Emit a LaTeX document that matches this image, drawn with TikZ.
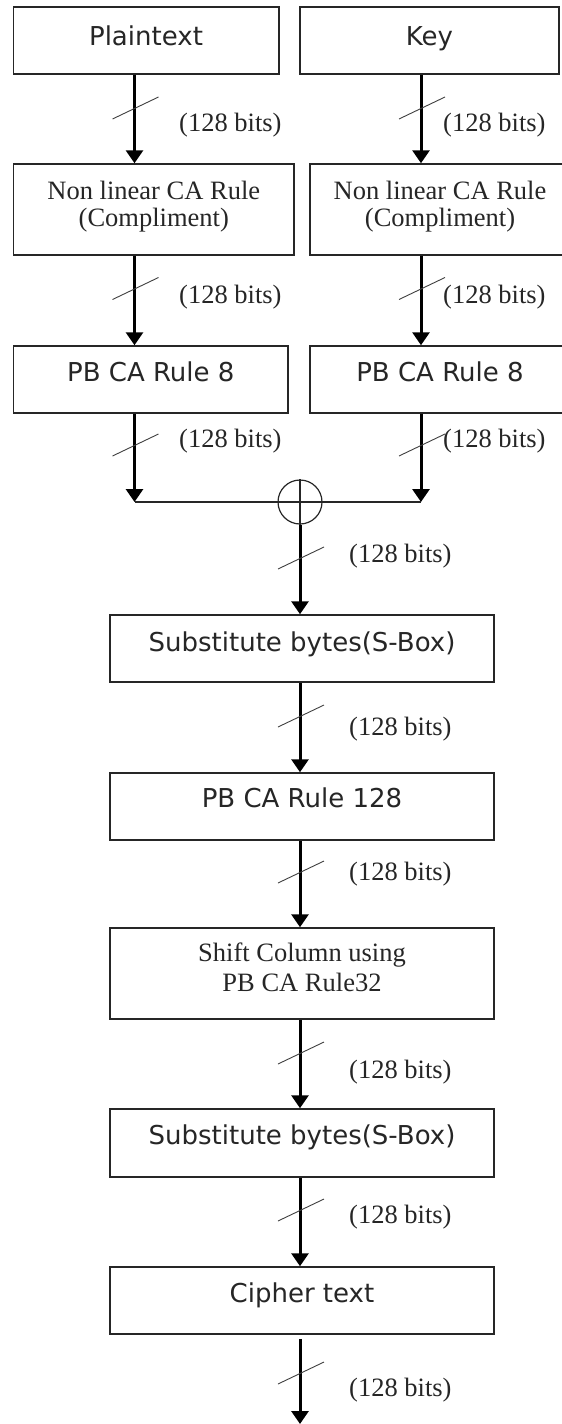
\documentclass[tikz,border=0pt]{standalone}
\usepackage{fontspec}
\setmainfont{Liberation Serif}
\newfontfamily\sansf{DejaVu Sans}
\usetikzlibrary{arrows.meta}
\begin{document}
\begin{tikzpicture}[x=1pt,y=-1pt,
  box/.style={draw=black!85, line width=1.5pt, rectangle, inner sep=0pt},
  sansT/.style={font=\sansf\fontsize{26}{28}\selectfont, inner sep=0pt, text height=19pt, text depth=0pt, text=black!85},
  serT/.style={font=\fontsize{26.5}{28}\selectfont, inner sep=0pt, text height=17.5pt, text depth=0pt, text=black!85},
  bitsT/.style={serT, anchor=west},
  arr/.style={line width=3pt, draw=black, -{Triangle[length=13pt,width=17pt]}},
  thinln/.style={line width=1.3pt, draw=black!85},
  slashln/.style={line width=0.9pt, draw=black!75},
]
\useasboundingbox (0,0) rectangle (562,1424);
\fill[white] (0,0) rectangle (562,1424);

% columns
\coordinate (colL) at (134.5,0);
\coordinate (colR) at (421,0);
\coordinate (colM) at (300,0);

% boxes
\node[box, minimum width=265.4pt, minimum height=67pt] (plain) at (146.3,40.5) {};
\node[box, minimum width=259pt, minimum height=67pt] (key) at (429.5,40.5) {};
\node[box, minimum width=280.4pt, minimum height=91pt] (nlL) at (153.8,209.5) {};
\node[box, minimum width=262pt, minimum height=91pt] (nlR) at (441,209.5) {};
\node[box, minimum width=274.4pt, minimum height=67pt] (pbL) at (150.8,379.5) {};
\node[box, minimum width=262pt, minimum height=67pt] (pbR) at (441,379.5) {};
\node[box, minimum width=384pt, minimum height=67pt] (sub1) at (302,648.5) {};
\node[box, minimum width=384pt, minimum height=67pt] (pb128) at (302,806.5) {};
\node[box, minimum width=384pt, minimum height=91pt] (shift) at (302,973.5) {};
\node[box, minimum width=384pt, minimum height=68pt] (sub2) at (302,1143) {};
\node[box, minimum width=384pt, minimum height=67pt] (cipher) at (302,1300.5) {};

% box texts
\node[sansT] (tPlain) at (146,36) {Plaintext};
\node[sansT] (tKey) at (429.5,36) {Key};
\node[serT] (tNlL1) at (153.8,191) {Non linear CA Rule};
\node[serT] (tNlL2) at (153.8,218) {(Compliment)};
\node[serT] (tNlR1) at (440,191) {Non linear CA Rule};
\node[serT] (tNlR2) at (440,218) {(Compliment)};
\node[sansT] (tPbL) at (150.8,372) {PB CA Rule 8};
\node[sansT] (tPbR) at (440,372) {PB CA Rule 8};
\node[sansT] (tSub1) at (302,642) {Substitute bytes(S-Box)};
\node[sansT] (tPb128) at (302,798) {PB CA Rule 128};
\node[serT] (tSh1) at (302,953) {Shift Column using};
\node[serT] (tSh2) at (302,983) {PB CA Rule32};
\node[sansT] (tSub2) at (302,1135) {Substitute bytes(S-Box)};
\node[sansT] (tCiph) at (302,1293) {Cipher text};

% XOR
\node[draw=black!85, line width=1.2pt, circle, minimum size=44pt, inner sep=0pt] (xor) at (300,502) {};
\coordinate (jL) at (134.5,502);
\coordinate (jR) at (421,502);
\coordinate (outEnd) at (300,1424);

% connectors
\draw[arr] (plain.south -| colL) -- (nlL.north -| colL);
\draw[arr] (key.south -| colR) -- (nlR.north -| colR);
\draw[arr] (nlL.south -| colL) -- (pbL.north -| colL);
\draw[arr] (nlR.south -| colR) -- (pbR.north -| colR);
\draw[arr] (pbL.south -| colL) -- (jL);
\draw[arr] (pbR.south -| colR) -- (jR);
\draw[thinln] (jL) -- (jR);
\draw[thinln] (xor.north) -- (xor.south);
\draw[arr] (xor.south) -- (sub1.north -| colM);
\draw[arr] (sub1.south -| colM) -- (pb128.north -| colM);
\draw[arr] (pb128.south -| colM) -- (shift.north -| colM);
\draw[arr] (shift.south -| colM) -- (sub2.north -| colM);
\draw[arr] (sub2.south -| colM) -- (cipher.north -| colM);
\draw[arr, shorten <=4pt] (cipher.south -| colM) -- (outEnd);

% bus-width slashes
\foreach \sx/\sy in {134.5/108, 134.5/288.5, 134.5/445, 421/108, 421/288.5, 421/445,
                     300/558, 300/716, 300/872, 300/1053, 300/1210, 300/1373}{
  \draw[slashln] (\sx-22,\sy+11) -- (\sx+24,\sy-11);
}

% width labels
\node[bitsT] (bL1) at (179,123) {(128 bits)};
\node[bitsT] (bL2) at (179,295) {(128 bits)};
\node[bitsT] (bL3) at (179,439) {(128 bits)};
\node[bitsT] (bR1) at (443,123) {(128 bits)};
\node[bitsT] (bR2) at (443,295) {(128 bits)};
\node[bitsT] (bR3) at (443,439) {(128 bits)};
\node[bitsT] (bM1) at (349,554) {(128 bits)};
\node[bitsT] (bM2) at (349,727) {(128 bits)};
\node[bitsT] (bM3) at (349,872) {(128 bits)};
\node[bitsT] (bM4) at (349,1070) {(128 bits)};
\node[bitsT] (bM5) at (349,1215) {(128 bits)};
\node[bitsT] (bM6) at (349,1388) {(128 bits)};
\end{tikzpicture}
\end{document}
